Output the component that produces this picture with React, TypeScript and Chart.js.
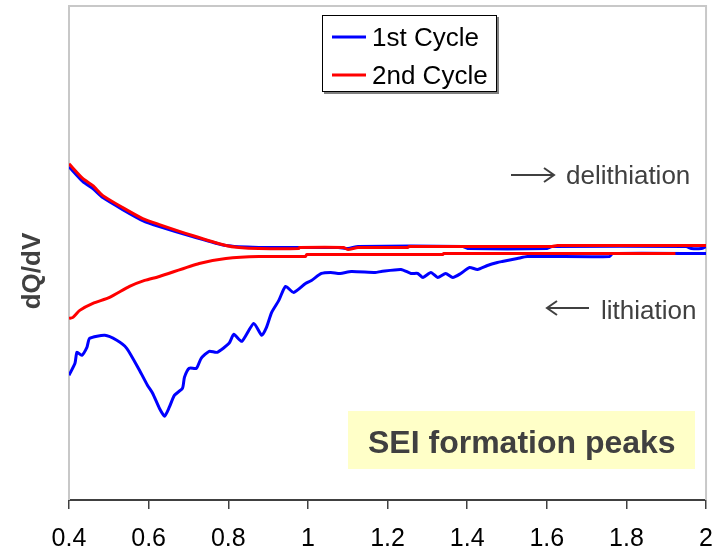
import React, { useEffect, useRef } from "react";
import { Chart, registerables } from "chart.js";

Chart.register(...registerables);

// ---- Data ----
const xTickValues = [0.4, 0.6, 0.8, 1.0, 1.2, 1.4, 1.6, 1.8, 2.0];
const xTickLabels = ["0.4", "0.6", "0.8", "1", "1.2", "1.4", "1.6", "1.8", "2"];
const seriesNames = ["1st Cycle", "2nd Cycle"];
const seriesColors = ["#0000FF", "#FF0000"];
const yAxisTitle = "dQ/dV";
const delithText = "delithiation";
const lithText = "lithiation";
const seiText = "SEI formation peaks";

// 1st cycle, lithiation (lower blue)
const c1LithV = [0.400, 0.415, 0.420, 0.432, 0.445, 0.452, 0.490, 0.520, 0.545, 0.577, 0.597, 0.610, 0.627, 0.640, 0.652, 0.665, 0.685, 0.690, 0.702, 0.720, 0.732, 0.752, 0.772, 0.802, 0.814, 0.834, 0.864, 0.884, 0.896, 0.909, 0.927, 0.944, 0.964, 0.994, 1.009, 1.034, 1.057, 1.081, 1.109, 1.169, 1.184, 1.234, 1.259, 1.276, 1.289, 1.309, 1.326, 1.346, 1.364, 1.384, 1.406, 1.426, 1.451, 1.476, 1.488, 1.526, 1.551, 1.758, 1.765, 2.000];
const c1LithQ = [-1.25, -1.13, -1.02, -1.05, -0.97, -0.88, -0.85, -0.90, -0.98, -1.20, -1.35, -1.43, -1.58, -1.66, -1.57, -1.45, -1.38, -1.27, -1.18, -1.18, -1.08, -1.01, -1.02, -0.93, -0.84, -0.91, -0.73, -0.85, -0.77, -0.62, -0.50, -0.36, -0.42, -0.33, -0.30, -0.23, -0.22, -0.23, -0.21, -0.22, -0.21, -0.19, -0.23, -0.23, -0.27, -0.22, -0.27, -0.23, -0.27, -0.23, -0.17, -0.19, -0.15, -0.12, -0.11, -0.08, -0.06, -0.06, -0.03, -0.03];

// 1st cycle, delithiation (upper blue)
const c1DelithV = [0.400, 0.435, 0.460, 0.485, 0.535, 0.585, 0.627, 0.710, 0.794, 0.877, 0.977, 1.076, 1.101, 1.126, 1.389, 1.401, 1.601, 1.613, 1.950, 1.963, 1.988, 2.000];
const c1DelithQ = [0.84, 0.69, 0.62, 0.53, 0.41, 0.30, 0.24, 0.14, 0.05, 0.03, 0.03, 0.03, 0.02, 0.04, 0.04, 0.02, 0.02, 0.04, 0.04, 0.02, 0.02, 0.04];

// 2nd cycle, lithiation (lower red)
const c2LithV = [0.400, 0.410, 0.427, 0.460, 0.502, 0.552, 0.590, 0.627, 0.727, 0.794, 0.877, 0.994, 0.997, 1.339, 1.341, 1.923];
const c2LithQ = [-0.68, -0.67, -0.60, -0.53, -0.47, -0.36, -0.30, -0.26, -0.13, -0.08, -0.06, -0.06, -0.04, -0.04, -0.03, -0.03];

// 2nd cycle, delithiation (upper red)
const c2DelithV = [0.400, 0.435, 0.460, 0.485, 0.535, 0.585, 0.627, 0.710, 0.794, 0.827, 0.877, 0.977, 0.979, 1.089, 1.101, 1.126, 1.251, 1.254, 1.613, 1.626, 2.000];
const c2DelithQ = [0.87, 0.72, 0.65, 0.55, 0.43, 0.32, 0.26, 0.15, 0.05, 0.03, 0.02, 0.02, 0.03, 0.03, 0.01, 0.03, 0.03, 0.04, 0.04, 0.05, 0.05];

const toPts = (xs: number[], ys: number[]) => xs.map((x, i) => ({ x, y: ys[i] }));

const FONT = "'Liberation Sans', Arial, sans-serif";
const GREY = "#404040";

function arrow(ctx: CanvasRenderingContext2D, x1: number, x2: number, y: number) {
  // draws arrow from x1 to x2 (head at x2)
  const dir = x2 > x1 ? 1 : -1;
  ctx.beginPath();
  ctx.moveTo(x1, y);
  ctx.lineTo(x2, y);
  ctx.moveTo(x2 - dir * 10, y - 7);
  ctx.lineTo(x2, y);
  ctx.lineTo(x2 - dir * 10, y + 7);
  ctx.stroke();
}

const decorPlugin = {
  id: "decor",
  beforeDraw(chart: any) {
    const { ctx, width, height } = chart;
    ctx.save();
    ctx.fillStyle = "#ffffff";
    ctx.fillRect(0, 0, width, height);
    ctx.restore();
  },
  beforeDatasetsDraw(chart: any) {
    const { ctx, chartArea: a } = chart;
    ctx.save();
    // frame (light grey) on left, top, right
    ctx.strokeStyle = "#c8c8c8";
    ctx.lineWidth = 2;
    ctx.beginPath();
    ctx.moveTo(a.left, a.bottom);
    ctx.lineTo(a.left, a.top);
    ctx.lineTo(a.right, a.top);
    ctx.lineTo(a.right, a.bottom);
    ctx.stroke();

    // yellow box
    ctx.fillStyle = "#FFFFC8";
    ctx.fillRect(348, 411, 347, 58);
    ctx.fillStyle = GREY;
    ctx.font = `bold 32px ${FONT}`;
    ctx.textBaseline = "alphabetic";
    ctx.textAlign = "left";
    ctx.fillText(seiText, 368, 453);

    // annotations
    ctx.font = `26px ${FONT}`;
    ctx.fillText(delithText, 566, 184);
    ctx.fillText(lithText, 601, 319);
    ctx.strokeStyle = GREY;
    ctx.lineWidth = 2;
    arrow(ctx, 511, 554, 175);
    arrow(ctx, 589, 547, 308);

    // y-axis title
    ctx.save();
    ctx.translate(33, 271);
    ctx.rotate(-Math.PI / 2);
    ctx.font = `bold 26px ${FONT}`;
    ctx.textAlign = "center";
    ctx.textBaseline = "middle";
    ctx.fillStyle = GREY;
    ctx.fillText(yAxisTitle, 0, 0);
    ctx.restore();
    ctx.restore();
  },
  afterDatasetsDraw(chart: any) {
    const { ctx } = chart;
    ctx.save();
    // legend box with shadow
    ctx.fillStyle = "#808080";
    ctx.fillRect(324, 17, 175, 77);
    ctx.fillStyle = "#ffffff";
    ctx.fillRect(322, 15, 175, 77);
    ctx.strokeStyle = "#000000";
    ctx.lineWidth = 1;
    ctx.strokeRect(322.5, 15.5, 174, 76);
    const rowsY = [37, 75];
    seriesNames.forEach((name, i) => {
      ctx.strokeStyle = seriesColors[i];
      ctx.lineWidth = 3;
      ctx.beginPath();
      ctx.moveTo(332, rowsY[i]);
      ctx.lineTo(366, rowsY[i]);
      ctx.stroke();
      ctx.fillStyle = "#000000";
      ctx.font = `26px ${FONT}`;
      ctx.textBaseline = "alphabetic";
      ctx.textAlign = "left";
      ctx.fillText(name, 372, rowsY[i] + 9);
    });
    ctx.restore();
  },
};

export default function App() {
  const canvasRef = useRef<HTMLCanvasElement | null>(null);

  useEffect(() => {
    if (!canvasRef.current) return;
    const lineDs = (label: string, data: any[], color: string) => ({
      label,
      data,
      borderColor: color,
      backgroundColor: color,
      borderWidth: 3,
      pointRadius: 0,
      tension: 0.2,
      fill: false,
    });
    const chart = new Chart(canvasRef.current, {
      type: "line",
      data: {
        datasets: [
          lineDs(seriesNames[1], toPts(c2DelithV, c2DelithQ), seriesColors[1]),
          lineDs(seriesNames[1], toPts(c2LithV, c2LithQ), seriesColors[1]),
          lineDs(seriesNames[0], toPts(c1DelithV, c1DelithQ), seriesColors[0]),
          lineDs(seriesNames[0], toPts(c1LithV, c1LithQ), seriesColors[0]),
        ],
      },
      options: {
        animation: false,
        responsive: true,
        maintainAspectRatio: false,
        parsing: false as any,
        layout: { padding: { left: 69, right: 18, top: 6, bottom: 0 } },
        plugins: {
          legend: { display: false },
          tooltip: { enabled: false },
        },
        scales: {
          x: {
            type: "linear",
            min: 0.4,
            max: 2,
            afterBuildTicks: (scale: any) => {
              scale.ticks = xTickValues.map((v) => ({ value: v }));
            },
            afterFit: (scale: any) => {
              scale.height = 51;
            },
            ticks: {
              color: "#000000",
              font: { family: FONT, size: 25 },
              padding: 15,
              maxRotation: 0,
              autoSkip: false,
              callback: (value: any) => {
                const i = xTickValues.findIndex((t) => Math.abs(t - Number(value)) < 1e-6);
                return i >= 0 ? xTickLabels[i] : "";
              },
            },
            grid: {
              display: true,
              drawOnChartArea: false,
              drawTicks: true,
              tickLength: 9,
              color: GREY,
              lineWidth: 1.5,
            },
            border: { display: true, color: GREY, width: 2 },
          },
          y: {
            type: "linear",
            display: false,
            min: -2.5,
            max: 2.45,
          },
        },
      },
      plugins: [decorPlugin],
    });
    return () => chart.destroy();
  }, []);

  return (
    <div style={{ position: "fixed", left: 0, top: 0, width: 728, height: 551 }}>
      <canvas ref={canvasRef} />
    </div>
  );
}
